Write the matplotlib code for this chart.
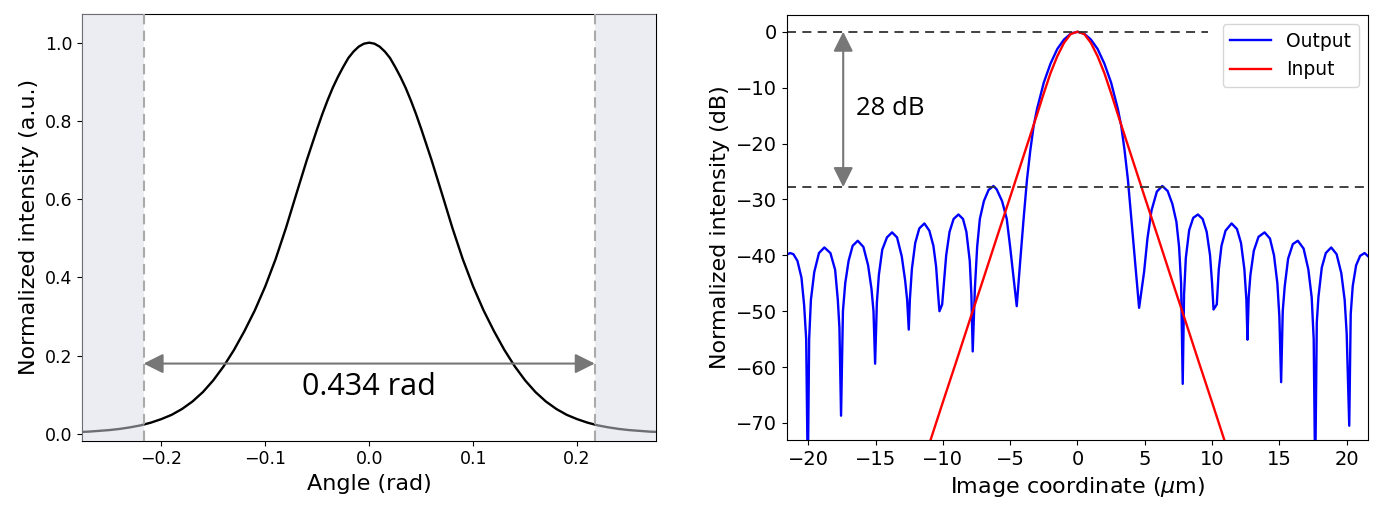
import numpy as np
import matplotlib
matplotlib.use("Agg")
import matplotlib.pyplot as plt

# ---- left panel: angular intensity (x >= 0 half)
ang_x = [0.000, 0.005, 0.010, 0.015, 0.020, 0.025, 0.030, 0.035, 0.040, 0.045,
         0.05, 0.06, 0.07, 0.08, 0.09,
         0.10, 0.11, 0.12, 0.13, 0.14, 0.15, 0.16, 0.17, 0.18, 0.19,
         0.20, 0.21, 0.22, 0.23, 0.24, 0.25, 0.26, 0.27, 0.28]
ang_val = [1.000, 0.9975, 0.990, 0.9775, 0.961, 0.938, 0.913, 0.885, 0.853, 0.818,
           0.780, 0.700, 0.614, 0.527, 0.447,
           0.377, 0.316, 0.263, 0.215, 0.173, 0.137, 0.107, 0.083, 0.064, 0.049,
           0.038, 0.029, 0.022, 0.017, 0.013, 0.010, 0.008, 0.006, 0.005]
aperture = 0.434

# ---- right panel: output (blue) in dB, left half and right half
out_left_x = [-21.6, -21.35, -21.1, -20.8, -20.5, -20.3, -20.15, -20.03,
              -19.93, -19.8, -19.55, -19.2, -18.8, -18.35, -18.0, -17.8, -17.68, -17.56,
              -17.42, -17.25, -17.0, -16.7, -16.32, -15.9, -15.55, -15.3, -15.15, -15.03,
              -14.9, -14.75, -14.5, -14.15, -13.77, -13.4, -13.05, -12.8, -12.65, -12.53,
              -12.45, -12.3, -12.05, -11.75, -11.37, -11.0, -10.7, -10.5, -10.35, -10.25,
              -10.05, -9.92, -9.75, -9.5, -9.2, -8.84, -8.5, -8.25, -8.0, -7.88, -7.78,
              -7.62, -7.45, -7.25, -6.95, -6.6, -6.24, -6.0, -5.6, -5.25, -5.0, -4.75, -4.51,
              -4.25, -4.0, -3.75, -3.5, -3.25, -3.0, -2.5, -2.0, -1.5, -1.0, -0.5, 0.0]
out_left_db = [-39.9, -39.6, -39.8, -41.0, -44.0, -49.0, -55.0, -80.0,
               -55.0, -48.0, -43.0, -39.6, -38.6, -39.6, -42.6, -48.0, -53.0, -68.7,
               -50.0, -45.0, -41.0, -38.3, -37.4, -38.5, -41.8, -46.0, -50.0, -59.4,
               -48.5, -43.5, -39.0, -36.8, -35.9, -36.8, -40.2, -44.5, -48.0, -53.3,
               -48.0, -42.5, -37.8, -35.2, -34.3, -35.6, -38.3, -42.0, -47.0, -50.0,
               -48.8, -45.0, -40.0, -35.8, -33.5, -32.7, -33.5, -35.8, -41.0, -47.0, -57.2,
               -46.0, -38.5, -33.5, -30.3, -28.3, -27.6, -28.2, -30.3, -33.5, -38.5, -44.0, -49.1,
               -41.0, -33.5, -26.5, -21.2, -16.8, -13.8, -9.1, -5.7, -3.1, -1.4, -0.35, 0.0]
out_right_x = [0.5, 1.0, 1.5, 2.0, 2.5, 3.0, 3.25, 3.5, 3.75, 4.0, 4.29, 4.58,
               4.75, 4.95, 5.2, 5.5, 5.9, 6.3, 6.7, 7.05, 7.35, 7.55, 7.7, 7.82,
               7.92, 8.05, 8.3, 8.6, 8.95, 9.3, 9.6, 9.85, 10.0, 10.11,
               10.35, 10.5, 10.7, 11.0, 11.45, 11.85, 12.15, 12.4, 12.55, 12.63,
               12.72, 12.85, 13.1, 13.45, 13.9, 14.3, 14.6, 14.85, 15.0, 15.13,
               15.25, 15.4, 15.65, 16.0, 16.37, 16.8, 17.15, 17.4, 17.55, 17.66,
               17.78, 17.9, 18.15, 18.45, 18.85, 19.25, 19.6, 19.85, 20.0, 20.19,
               20.3, 20.45, 20.7, 21.0, 21.33, 21.6]
out_right_db = [-0.35, -1.4, -3.1, -5.7, -9.1, -13.8, -16.8, -21.2, -26.5, -33.5, -41.4, -49.4,
                -46.5, -43.0, -37.0, -32.0, -28.6, -27.6, -28.5, -30.8, -34.0, -38.5, -45.0, -63.0,
                -47.0, -40.5, -35.5, -33.3, -32.7, -33.5, -35.8, -40.0, -45.0, -49.7,
                -48.8, -42.5, -38.3, -35.6, -34.3, -35.3, -37.8, -42.5, -48.0, -55.1,
                -47.5, -43.5, -39.2, -36.7, -35.9, -37.0, -40.0, -45.0, -51.0, -62.7,
                -50.0, -45.5, -40.6, -38.0, -37.4, -38.8, -42.5, -47.5, -55.0, -80.0,
                -52.0, -47.5, -42.2, -39.6, -38.6, -39.8, -43.2, -48.0, -54.0, -70.5,
                -50.5, -45.5, -41.8, -40.1, -39.6, -40.2]

# input (red), symmetric, x >= 0 half
in_x = [0.0, 0.5, 1.0, 1.5, 2.0, 2.5, 3.0, 3.5, 4.0, 5.0, 6.0, 7.0, 8.0, 9.0, 10.0, 11.0, 12.0]
in_db = [0.0, -0.4, -2.0, -4.4, -7.4, -11.0, -14.8, -18.5, -22.2, -29.6, -36.9,
         -44.3, -51.6, -59.0, -66.3, -73.7, -81.0]
sidelobe_db = -27.8


ax_x = np.concatenate([-np.array(ang_x[::-1]), np.array(ang_x[1:])])
ax_v = np.concatenate([np.array(ang_val[::-1]), np.array(ang_val[1:])])
out_x = np.array(out_left_x + out_right_x)
out_db = np.array(out_left_db + out_right_db)
inp_x = np.concatenate([-np.array(in_x[::-1]), np.array(in_x[1:])])
inp_db = np.concatenate([np.array(in_db[::-1]), np.array(in_db[1:])])

note_font = ['Open Sans', 'DejaVu Sans']

fig = plt.figure(figsize=(13.84, 5.09), dpi=100)
ax1 = fig.add_axes([0.0592, 0.1342, 0.4151, 0.8383])
ax2 = fig.add_axes([0.5684, 0.1350, 0.4202, 0.8356])

# left panel
half = aperture / 2
ax1.plot(ax_x, ax_v, color='k', lw=1.7, zorder=2, solid_joinstyle='round')
xl = (-0.2763, 0.2763)
ax1.axvspan(xl[0], -half, color='#dbdde7', alpha=0.5, lw=0, zorder=3)
ax1.axvspan(half, xl[1], color='#dbdde7', alpha=0.5, lw=0, zorder=3)
for xv in (-half, half):
    ax1.axvline(xv, color='#aaaaaa', lw=1.5, dashes=(5, 3), zorder=4)
ax1.annotate('', xy=(-half, 0.18), xytext=(half, 0.18),
             arrowprops=dict(arrowstyle='<|-|>', color='#777777', lw=1.5,
                             mutation_scale=30, shrinkA=0, shrinkB=0), zorder=5)
ax1.text(0.0, 0.12, '%.3f rad' % aperture, ha='center', va='center',
         fontsize=22, family=note_font)
ax1.set_xlim(xl)
ax1.set_ylim(-0.0171, 1.0733)
ax1.set_xticks([-0.2, -0.1, 0.0, 0.1, 0.2])
ax1.set_yticks([0.0, 0.2, 0.4, 0.6, 0.8, 1.0])
ax1.tick_params(labelsize=12.5)
ax1.set_xlabel('Angle (rad)', fontsize=16)
ax1.set_ylabel('Normalized intensity (a.u.)', fontsize=16)

# right panel
ax2.plot(out_x, out_db, color='b', lw=1.7, label='Output')
ax2.plot(inp_x, inp_db, color='r', lw=1.7, label='Input')
ax2.plot([-21.6, 9.7], [0, 0], color='#333333', lw=1.3, dashes=(5, 3.5))
ax2.plot([-21.6, 21.6], [sidelobe_db, sidelobe_db], color='#333333', lw=1.3, dashes=(5, 3.5))
ax2.annotate('', xy=(-17.4, 0), xytext=(-17.4, sidelobe_db),
             arrowprops=dict(arrowstyle='<|-|>', color='#777777', lw=1.5,
                             mutation_scale=30, shrinkA=0, shrinkB=0))
ax2.text(-16.45, -13.8, '%d dB' % round(-sidelobe_db), ha='left', va='center',
         fontsize=18.5, family=note_font)
ax2.set_xlim(-21.6, 21.6)
ax2.set_ylim(-73.1, 3.0)
ax2.set_xticks([-20, -15, -10, -5, 0, 5, 10, 15, 20])
ax2.set_yticks([0, -10, -20, -30, -40, -50, -60, -70])
ax2.tick_params(labelsize=14)
ax2.set_xlabel(r'Image coordinate ($\mu$m)', fontsize=16)
ax2.set_ylabel('Normalized intensity (dB)', fontsize=16)
ax2.legend(loc='upper right', fontsize=13.5, handlelength=2.2)

fig.savefig('out.png', dpi=100)
